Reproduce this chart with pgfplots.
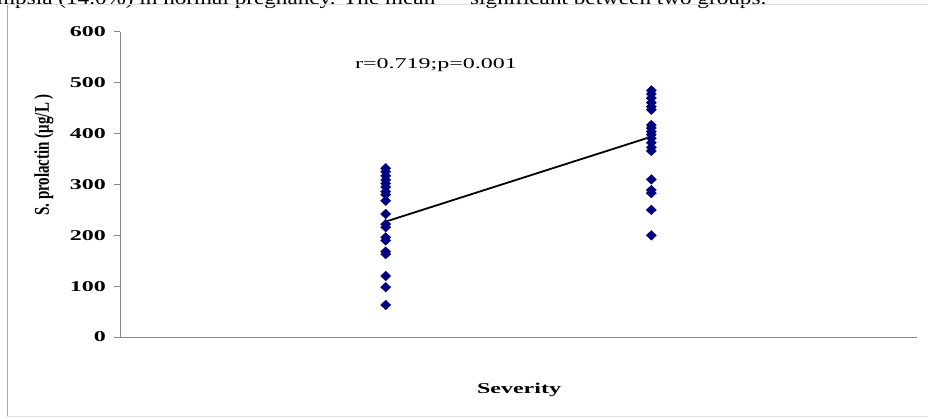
\documentclass[border=0pt]{standalone}
\usepackage{fontspec}
\setmainfont{Liberation Serif}
\usepackage{graphicx}
\usepackage{pgfplots}
\pgfplotsset{compat=1.18}
\definecolor{navy}{RGB}{0,0,128}
\definecolor{axgray}{RGB}{134,134,134}
\pgfplotstableread{
x y
1 332
1 325
1 317
1 309
1 302
1 295
1 286
1 280
1 268
1 242
1 222
1 216
1 196
1 190
1 168
1 163
1 120
1 98
1 63
2 485
2 478
2 470
2 461
2 453
2 447
2 417
2 411
2 404
2 398
2 391
2 382
2 373
2 366
2 310
2 289
2 283
2 250
2 200
}\pts
\begin{document}
\begin{tikzpicture}[x=1pt,y=1pt]
\path[use as bounding box] (0,0) rectangle (928,418);
\begin{scope}
\clip (0,0) rectangle (928,418);
\node[overlay, anchor=base west, inner sep=0, font=\fontsize{19}{22}\selectfont] at (-3,413) {\scalebox{1.22}[1]{mpsia (14.0\%) in normal pregnancy. The mean}};
\node[overlay, anchor=base west, inner sep=0, font=\fontsize{19}{22}\selectfont] at (470,413) {\scalebox{1.22}[1]{significant between two groups.}};
\draw[gray!25, line width=1pt] (7,413) -- (928,413);
\draw[gray!25, line width=1pt] (7,2) -- (928,2);
\draw[gray!65, line width=1pt] (7,413) -- (7,2);
\end{scope}
\begin{axis}[
  at={(120pt,81pt)}, anchor=south west,
  scale only axis, width=797pt, height=305pt,
  xmin=0, xmax=3, ymin=0, ymax=600,
  axis x line=bottom, axis y line=left,
  axis line style={-, draw=axgray, line width=1pt},
  xtick=\empty,
  ytick={0,100,...,600},
  tick align=outside, major tick length=6pt,
  ytick style={draw=axgray, line width=1pt},
  /pgf/number format/assume math mode=true,
  yticklabel={\scalebox{1.6}[1]{\pgfmathprintnumber{\tick}}},
  yticklabel style={font=\bfseries\fontsize{15}{15}\selectfont, anchor=east, inner sep=0pt, xshift=-8pt},
  clip=false,
]
\addplot[only marks, mark=diamond*, mark size=4.8pt, color=navy, mark options={xscale=1.4}] table[x=x, y=y] {\pts};
\addplot[black, line width=1.8pt] coordinates {(1,227) (2,394)};
\end{axis}
\node[font=\fontsize{15}{15}\selectfont] at (436,353) {\scalebox{1.6}[1]{r=0.719;p=0.001}};
\node[font=\bfseries\fontsize{15}{15}\selectfont] at (519,28) {\scalebox{1.6}[1]{Severity}};
\node[rotate=90, font=\bfseries\fontsize{15}{15}\selectfont] at (44,263) {\scalebox{1}[1.4]{S. prolactin (μg/L )}};
\end{tikzpicture}
\end{document}
